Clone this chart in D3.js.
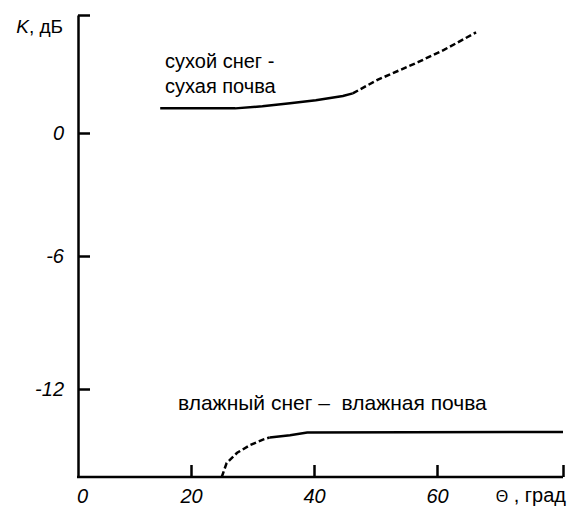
<!DOCTYPE html>
<html>
<head>
<meta charset="utf-8">
<script src="https://d3js.org/d3.v7.min.js"></script>
<style>
  body { margin: 0; background: #fff; }
  text { font-family: 'Liberation Sans', Arial, sans-serif; fill: #000; }
  .tick text { font-size: 20px; font-style: italic; }
  .curve-label { font-size: 20px; white-space: pre; }
</style>
</head>
<body>
<svg id="svg1" width="571" height="506"></svg>
<script>
// Axis ticks (last y / x tick is the unlabeled end of each axis)
const yTicks = [-12, -6, 0, 5.75];
const xTicks = [0, 20, 40, 60, 80];

// сухой снег - сухая почва (angle, dB)
const dryAngle = [14.5, 27.2, 31.6, 36.1, 40.3, 44.7, 46.3];
const dryK = [1.2, 1.2, 1.3, 1.45, 1.6, 1.8, 1.93];
// dashed continuation
const dryAngle2 = [46.3, 50.4, 56.9, 61.1, 66.2];
const dryK2 = [1.93, 2.6, 3.45, 4.05, 4.9];

// влажный снег - влажная почва
const wetAngle = [25.0, 25.8, 27.5, 29.6, 31.7, 32.8];
const wetK = [-16, -15.36, -14.9, -14.55, -14.3, -14.2];
const wetAngle2 = [32.8, 36.1, 38.9, 80];
const wetK2 = [-14.2, -14.1, -13.98, -13.95];

const svg = d3.select('#svg1');

// Original axes are not quite uniform, so piecewise scales
const xScale = d3.scaleLinear()
  .domain([0, 20, 40, 60, 80])
  .range([79, 191, 314, 437, 563]);

const yScale = d3.scaleLinear()
  .domain([-16, -12, -6, 0, 5.75])
  .range([477, 389, 256, 133, 15]);

const render = () => {
  const line = d3.line()
    .x(d => xScale(d[0]))
    .y(d => yScale(d[1]));

  //y-axis, ticks pointing inwards
  const yAxisG = svg.append('g')
    .attr('transform', `translate(${xScale(0) - 1},0)`)
    .call(d3.axisLeft(yScale)
      .tickValues(yTicks)
      .tickFormat(v => v > 0 ? '' : String(v))
      .tickSizeInner(-12)
      .tickSizeOuter(0)
      .tickPadding(14));

  //x-axis
  const xAxisG = svg.append('g')
    .attr('transform', `translate(0,${yScale(-16)})`)
    .call(d3.axisBottom(xScale)
      .tickValues(xTicks)
      .tickFormat(v => v === 80 ? '' : v)
      .tickSizeInner(-12)
      .tickSizeOuter(0)
      .tickPadding(12));

  [yAxisG, xAxisG].forEach(g => {
    g.selectAll('.domain, .tick line')
      .attr('stroke', '#000')
      .attr('stroke-width', 2.5);
    g.selectAll('.tick text').attr('fill', '#000');
  });
  xAxisG.select('.domain').attr('d', `M${xScale(0) - 2},0H${xScale(80)}`);
  xAxisG.selectAll('.tick').filter(d => d === 0).select('line').remove();
  xAxisG.selectAll('.tick').filter(d => d === 0).select('text').attr('dx', 3);

  //curves
  const pts = (a, b) => a.map((v, i) => [v, b[i]]);
  const curves = [
    { d: pts(dryAngle, dryK), dash: null },
    { d: pts(dryAngle2, dryK2), dash: '6,3' },
    { d: pts(wetAngle, wetK), dash: '6,3' },
    { d: pts(wetAngle2, wetK2), dash: null }
  ];
  svg.selectAll('path.curve').data(curves)
    .enter().append('path')
      .attr('class', 'curve')
      .attr('d', c => line(c.d))
      .attr('fill', 'none')
      .attr('stroke', '#000')
      .attr('stroke-width', 2.5)
      .attr('stroke-dasharray', c => c.dash);

  //axis titles
  const yTitle = svg.append('text')
    .attr('x', 63).attr('y', 33)
    .attr('text-anchor', 'end')
    .style('font-size', '19px');
  yTitle.append('tspan').style('font-style', 'italic').text('K');
  yTitle.append('tspan').text(', дБ');

  const xTitle = svg.append('text')
    .attr('x', 566).attr('y', 502)
    .attr('text-anchor', 'end')
    .style('font-size', '20px');
  xTitle.append('tspan').style('font-size', '16px').text('Θ');
  xTitle.append('tspan').text(' , град');

  //curve labels
  svg.append('text').attr('class', 'curve-label')
    .attr('x', 165).attr('y', 68).text('сухой снег -');
  svg.append('text').attr('class', 'curve-label')
    .attr('x', 165).attr('y', 93).text('сухая почва');
  svg.append('text').attr('class', 'curve-label')
    .style('font-size', '21px')
    .attr('x', 178).attr('y', 410).text('влажный снег –  влажная почва');
};

render();
</script>
</body>
</html>
